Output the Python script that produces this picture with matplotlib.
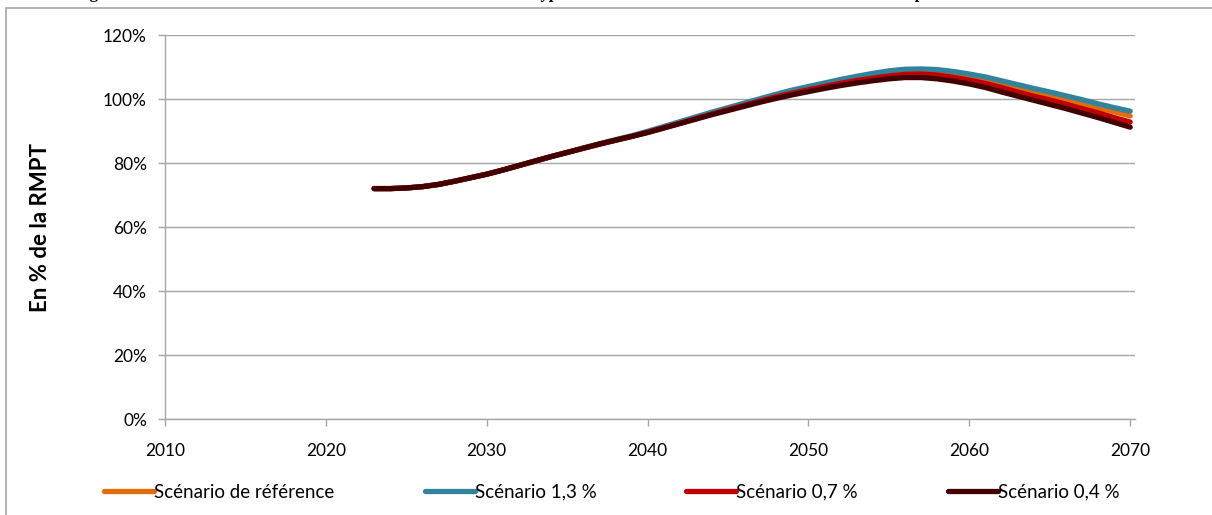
import numpy as np
import matplotlib
matplotlib.use('Agg')
import matplotlib.pyplot as plt
from matplotlib.patches import Rectangle
from matplotlib.ticker import FuncFormatter

plt.rcParams['font.family'] = ['Lato', 'DejaVu Sans']

# Pension relative to RMPT (%), 2023-2070, by scenario
years = np.arange(2023, 2071)

ref = [72.0, 72.0, 72.2, 72.6, 73.3, 74.3, 75.4, 76.5, 77.8, 79.2,
       80.6, 82.0, 83.3, 84.6, 85.9, 87.1, 88.3, 89.7, 91.1, 92.6,
       94.0, 95.5, 96.9, 98.3, 99.6, 100.9, 102.1, 103.1, 104.2, 105.1,
       106.0, 106.8, 107.5, 108.0, 108.1, 107.8, 107.2, 106.5, 105.5, 104.4,
       103.1, 101.9, 100.9, 99.8, 98.5, 97.2, 96.0, 94.7]

s13 = [72.0, 72.0, 72.2, 72.6, 73.3, 74.3, 75.4, 76.5, 77.8, 79.2,
       80.6, 82.0, 83.3, 84.7, 86.0, 87.3, 88.5, 89.9, 91.4, 92.9,
       94.4, 95.9, 97.3, 98.7, 100.1, 101.5, 102.8, 103.9, 105.0, 106.1,
       107.1, 108.0, 108.8, 109.3, 109.4, 109.2, 108.6, 107.8, 106.9, 105.7,
       104.5, 103.3, 102.2, 101.0, 99.8, 98.5, 97.3, 96.2]

s07 = [72.0, 72.0, 72.2, 72.6, 73.3, 74.3, 75.4, 76.5, 77.8, 79.2,
       80.6, 82.0, 83.3, 84.6, 85.9, 87.1, 88.3, 89.6, 91.0, 92.4,
       93.9, 95.3, 96.7, 98.0, 99.4, 100.7, 101.8, 102.9, 103.9, 104.9,
       105.8, 106.5, 107.2, 107.7, 107.8, 107.5, 106.8, 105.9, 104.9, 103.6,
       102.2, 100.9, 99.7, 98.4, 97.0, 95.7, 94.2, 92.8]

s04 = [72.0, 72.0, 72.2, 72.6, 73.3, 74.3, 75.4, 76.5, 77.8, 79.2,
       80.6, 82.0, 83.3, 84.6, 85.9, 87.1, 88.3, 89.5, 90.9, 92.3,
       93.7, 95.1, 96.4, 97.7, 99.0, 100.2, 101.3, 102.3, 103.3, 104.2,
       105.0, 105.7, 106.3, 106.7, 106.7, 106.3, 105.6, 104.7, 103.6, 102.2,
       100.9, 99.6, 98.3, 97.0, 95.6, 94.2, 92.7, 91.2]

labels = ['Scénario de référence', 'Scénario 1,3 %', 'Scénario 0,7 %', 'Scénario 0,4 %']
colors = ['#E36C09', '#31849B', '#C00000', '#420000']

title = ("Figure 2.18 – Niveau de vie relatif des retraités, selon différentes "
         "hypothèses de croissance annuelle des revenus et de la productivité")

W, H = 1212, 515
fig = plt.figure(figsize=(W / 100, H / 100), dpi=100)
ax = fig.add_axes([165 / W, 1 - 419 / H, (1135 - 165) / W, (419 - 35) / H])

grey = '#A6A6A6'

# chart frame, running off the right and bottom edges
fig.patches.append(Rectangle((6 / W, -0.05), 1.1, 1 - 8 / H + 0.05,
                             transform=fig.transFigure, fill=False,
                             edgecolor=grey, linewidth=1.2))

# title sits above the top edge, only its descenders show
fig.text(75 / W, 1 + 1.5 / H, title, family=['Liberation Serif', 'DejaVu Serif'],
         fontweight='bold', fontsize=12, ha='left', va='baseline')

for vals, lab, col in zip([ref, s13, s07, s04], labels, colors):
    ax.plot(years, vals, color=col, linewidth=3.8, solid_capstyle='round',
            label=lab)

ax.set_xlim(2010, 2070.3)
ax.set_ylim(0, 120)
ax.set_xticks(range(2010, 2071, 10))
ax.set_yticks(range(0, 121, 20))
ax.yaxis.set_major_formatter(FuncFormatter(lambda v, p: f'{v:.0f}%'))

ax.grid(axis='y', color=grey, linewidth=1)
ax.set_axisbelow(True)
for side in ['top', 'right']:
    ax.spines[side].set_visible(False)
for side in ['left', 'bottom']:
    ax.spines[side].set_color(grey)
    ax.spines[side].set_linewidth(1)

ax.tick_params(axis='y', length=5, width=1, color=grey, pad=8, labelsize=12.5)
ax.tick_params(axis='x', length=5, width=1, color=grey, pad=12, labelsize=12.5)

ax.set_ylabel('En % de la RMPT', fontweight='bold', fontsize=16)
ax.yaxis.set_label_coords((51 - 165) / 970, 0.5)

fig.legend(loc='center', bbox_to_anchor=(612 / W, 1 - 492 / H), ncol=4,
           frameon=False, fontsize=13.5, handlelength=2.67, handletextpad=0.0,
           columnspacing=4.8)

fig.savefig('out.png', dpi=100)
